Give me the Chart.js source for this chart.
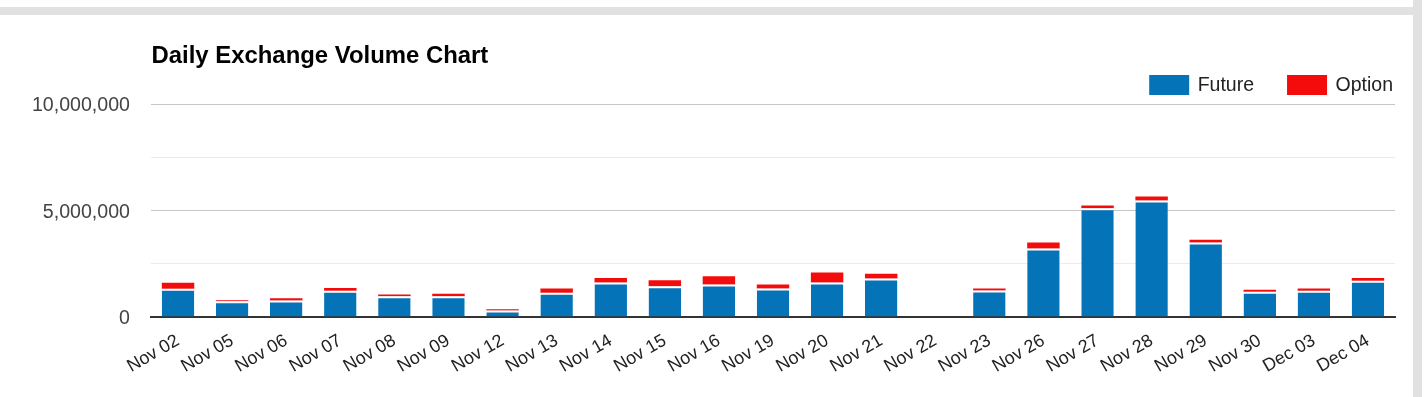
<!DOCTYPE html>
<html><head><meta charset="utf-8">
<script src="https://cdn.jsdelivr.net/npm/chart.js@4.4.1/dist/chart.umd.min.js"></script>
<style>
html,body{margin:0;padding:0;background:#fff;width:1427px;height:397px;overflow:hidden;}
#topband{position:absolute;left:0;top:7px;width:1413px;height:8px;background:#e1e1e1;}
#rightband{position:absolute;left:1413px;top:0;width:9px;height:397px;background:#e1e1e1;}
#wrap{position:absolute;left:0;top:15px;width:1413px;height:382px;}
</style></head><body>
<div id="topband"></div><div id="rightband"></div>
<div id="wrap"><canvas id="c"></canvas></div>
<script>
const chartTitle = 'Daily Exchange Volume Chart';
const seriesNames = ['Future', 'Option'];
const seriesColors = ['#0573b8', '#f40c0c'];
const categories = ['Nov 02','Nov 05','Nov 06','Nov 07','Nov 08','Nov 09','Nov 12','Nov 13','Nov 14','Nov 15','Nov 16','Nov 19','Nov 20','Nov 21','Nov 22','Nov 23','Nov 26','Nov 27','Nov 28','Nov 29','Nov 30','Dec 03','Dec 04'];
const futureValues = [1330000, 740000, 770000, 1230000, 970000, 970000, 300000, 1140000, 1620000, 1440000, 1530000, 1340000, 1620000, 1810000, 0, 1250000, 3220000, 5100000, 5470000, 3500000, 1190000, 1230000, 1700000];
const optionValues = [280000, 50000, 110000, 130000, 90000, 120000, 60000, 200000, 210000, 280000, 380000, 190000, 470000, 220000, 0, 90000, 280000, 130000, 190000, 130000, 90000, 110000, 130000];
const yGridValues = [0, 2500000, 5000000, 7500000, 10000000];
const yLabelValues = [0, 5000000, 10000000];

const FONT = '"Liberation Sans", Arial, sans-serif';

const headerPlugin = {
  id: 'header',
  afterDraw(chart) {
    const ctx = chart.ctx, a = chart.chartArea;
    ctx.save();
    ctx.font = 'bold 23.9px ' + FONT;
    ctx.fillStyle = '#000';
    ctx.textAlign = 'left';
    ctx.textBaseline = 'alphabetic';
    ctx.fillText(chartTitle, a.left + 0.5, 48);
    ctx.font = '19.5px ' + FONT;
    ctx.textBaseline = 'middle';
    const ds = chart.data.datasets;
    const widths = ds.map(d => 40 + 8.5 + ctx.measureText(d.label).width);
    const total = widths.reduce((s, w) => s + w, 0) + 33 * (ds.length - 1);
    let x = a.right - 2 - total;
    ds.forEach((d, i) => {
      ctx.fillStyle = d.backgroundColor;
      ctx.fillRect(x, 60, 40, 20);
      ctx.fillStyle = '#222';
      ctx.fillText(d.label, x + 48.5, 71);
      x += widths[i] + 33;
    });
    ctx.restore();
  }
};

new Chart(document.getElementById('c'), {
  type: 'bar',
  data: {
    labels: categories,
    datasets: [
      { label: seriesNames[0], data: futureValues, backgroundColor: seriesColors[0],
        borderColor: '#ffffff', borderWidth: {top: 2, left: 0, right: 0, bottom: 0}, borderSkipped: 'start' },
      { label: seriesNames[1], data: optionValues, backgroundColor: seriesColors[1], borderWidth: 0 }
    ]
  },
  options: {
    responsive: true,
    maintainAspectRatio: false,
    animation: false,
    layout: { padding: { top: 89, right: 18, left: 0, bottom: 0 } },
    datasets: { bar: { categoryPercentage: 1, barPercentage: 0.6 } },
    plugins: { legend: { display: false }, title: { display: false }, tooltip: { enabled: false } },
    scales: {
      x: {
        stacked: true,
        grid: { display: false, drawTicks: false },
        border: { display: true, color: '#333333', width: 2 },
        ticks: { autoSkip: false, minRotation: 30, maxRotation: 30, padding: 13,
          color: '#222', font: { family: FONT, size: 18 } },
        afterFit(scale) { scale.height = 80; }
      },
      y: {
        stacked: true,
        min: 0, max: 10000000,
        afterBuildTicks(scale) { scale.ticks = yGridValues.map(v => ({ value: v })); },
        grid: { drawTicks: false, lineWidth: 1,
          color: c => (c.tick && yLabelValues.includes(c.tick.value)) ? '#c6c6c6' : '#ebebeb' },
        border: { display: false },
        ticks: { padding: 21, labelOffset: 2, color: '#444', font: { family: FONT, size: 19.6 },
          callback: v => yLabelValues.includes(v) ? v.toLocaleString('en-US') : '' },
        afterFit(scale) { scale.width = 151; }
      }
    }
  },
  plugins: [headerPlugin]
});
</script>
</body></html>
